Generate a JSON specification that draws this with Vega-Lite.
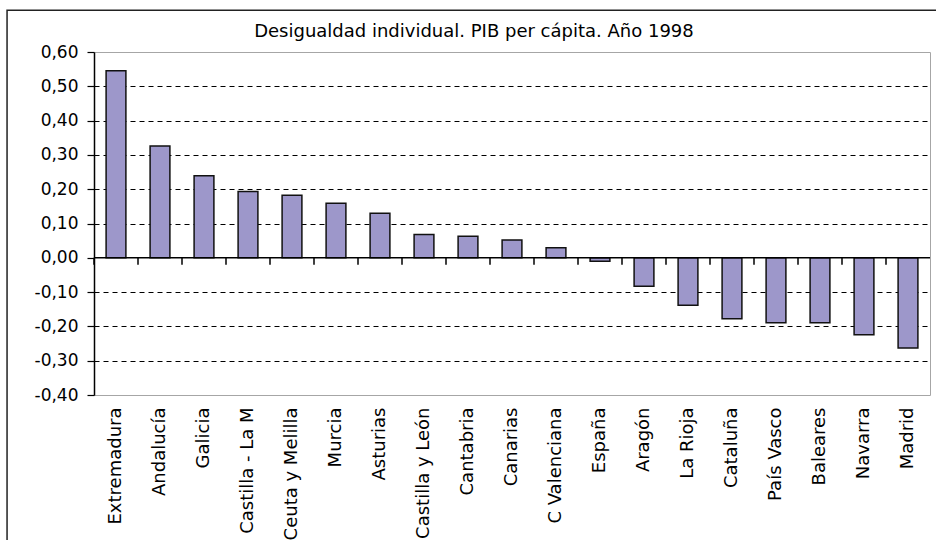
{
  "$schema": "https://vega.github.io/schema/vega-lite/v6.json",
  "width": 836,
  "height": 343,
  "autosize": {"type": "none"},
  "padding": {"left": 94, "top": 52, "right": 6, "bottom": 145},
  "background": "white",
  "config": {"view": {"stroke": "#a6a6a6", "strokeWidth": 1}, "font": "DejaVu Sans"},
  "data": {
    "values": [
      {"region": "Extremadura", "value": 0.545},
      {"region": "Andalucía", "value": 0.326},
      {"region": "Galicia", "value": 0.239},
      {"region": "Castilla - La M", "value": 0.193},
      {"region": "Ceuta y Melilla", "value": 0.182},
      {"region": "Murcia", "value": 0.159},
      {"region": "Asturias", "value": 0.130},
      {"region": "Castilla y León", "value": 0.068},
      {"region": "Cantabria", "value": 0.063},
      {"region": "Canarias", "value": 0.052},
      {"region": "C Valenciana", "value": 0.029},
      {"region": "España", "value": -0.010},
      {"region": "Aragón", "value": -0.083},
      {"region": "La Rioja", "value": -0.138},
      {"region": "Cataluña", "value": -0.178},
      {"region": "País Vasco", "value": -0.189},
      {"region": "Baleares", "value": -0.189},
      {"region": "Navarra", "value": -0.224},
      {"region": "Madrid", "value": -0.263}
    ]
  },
  "resolve": {"scale": {"x": "independent"}, "axis": {"x": "independent", "y": "independent"}},
  "layer": [
    {
      "mark": {"type": "bar", "fill": "#9D97CA", "stroke": "#111111", "strokeWidth": 1.5, "width": {"band": 0.45}},
      "encoding": {
        "x": {
          "field": "region", "type": "nominal", "sort": null,
          "scale": {"paddingInner": 0, "paddingOuter": 0},
          "axis": {"title": null, "orient": "bottom", "domain": false, "ticks": false, "tickSize": 0, "labelAngle": -90, "labelPadding": 12, "labelFontSize": 18, "labelFont": "DejaVu Sans", "labelColor": "black", "labelAlign": "right", "labelBaseline": "middle", "labelOverlap": false, "labelLimit": 300}
        },
        "y": {
          "field": "value", "type": "quantitative",
          "scale": {"domain": [-0.4, 0.6], "nice": false},
          "axis": {
            "title": null,
            "orient": "left",
            "values": [-0.4, -0.3, -0.2, -0.1, 0, 0.1, 0.2, 0.3, 0.4, 0.5, 0.6],
            "labelOverlap": false,
            "labelExpr": "replace(replace(format(datum.value, '.2f'), '.', ','), '\u2212', '-')",
            "domainColor": "black", "domainWidth": 1.5,
            "tickColor": "black", "tickSize": 7, "tickWidth": 1.2,
            "labelPadding": 9, "labelFontSize": 17, "labelFont": "DejaVu Sans", "labelColor": "black",
            "grid": true, "gridColor": "black", "gridDash": [5, 4], "gridWidth": 1,
            "gridOpacity": {"condition": {"test": "abs(datum.value) < 0.001 || datum.value > 0.55 || datum.value < -0.35", "value": 0}, "value": 1}
          }
        }
      }
    },
    {
      "data": {"values": [{"k": 1}]},
      "mark": {"type": "rule", "color": "black", "strokeWidth": 1.5},
      "encoding": {"y": {"datum": 0, "type": "quantitative", "scale": {"domain": [-0.4, 0.6], "nice": false}, "axis": null}}
    },
    {
      "mark": {"type": "rule", "color": "black", "strokeWidth": 1.5},
      "encoding": {
        "x": {"field": "region", "type": "nominal", "sort": null, "bandPosition": 0, "scale": {"paddingInner": 0, "paddingOuter": 0}, "axis": null},
        "y": {"datum": 0, "type": "quantitative", "scale": {"domain": [-0.4, 0.6], "nice": false}, "axis": null},
        "y2": {"datum": -0.02}
      }
    },
    {
      "data": {"values": [{"k": 1}]},
      "mark": {"type": "rect", "fillOpacity": 0, "stroke": "#222222", "strokeWidth": 1.5},
      "encoding": {
        "x": {"datum": -0.104, "type": "quantitative", "scale": {"domain": [0, 1], "nice": false}, "axis": null},
        "x2": {"datum": 1.2},
        "y": {"datum": 0.7216, "type": "quantitative", "scale": {"domain": [-0.4, 0.6], "nice": false}, "axis": null},
        "y2": {"datum": -1.0}
      }
    },
    {
      "data": {"values": [{"k": 1}]},
      "mark": {"type": "text", "text": "Desigualdad individual.  PIB per cápita.  Año 1998", "fontSize": 18, "font": "DejaVu Sans", "color": "black", "align": "center", "baseline": "alphabetic"},
      "encoding": {
        "x": {"datum": 0.4545, "type": "quantitative", "scale": {"domain": [0, 1], "nice": false}, "axis": null},
        "y": {"datum": 0.6446, "type": "quantitative", "scale": {"domain": [-0.4, 0.6], "nice": false}, "axis": null}
      }
    }
  ]
}
